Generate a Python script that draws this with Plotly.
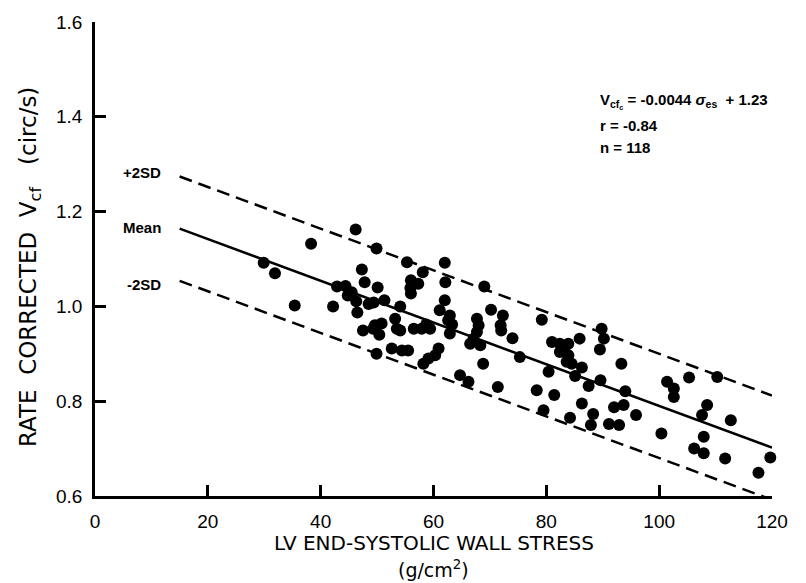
import plotly.graph_objects as go

# Scatter data: LV end-systolic wall stress (g/cm^2) vs rate corrected Vcf (circ/s)
stress = [
    29.9, 31.9, 35.4, 38.3, 42.2, 42.9, 44.4, 44.8, 46.2, 46.3,
    46.5, 47.3, 47.8, 47.5, 49.4, 49.6, 49.9, 50.1, 50.4, 49.9,
    50.8, 51.3, 49.3, 53.2, 53.5, 54.1, 54.1, 52.6, 54.4, 55.5,
    55.3, 58.1, 56.0, 57.3, 55.9, 56.0, 56.5, 57.9, 59.4, 58.2,
    59.1, 60.3, 60.9, 62.0, 62.1, 62.0, 61.1, 62.9, 62.6, 62.9,
    64.7, 66.2, 66.5, 67.7, 68.0, 67.7, 68.3, 68.8, 69.0, 70.2,
    72.3, 71.9, 72.0, 74.0, 71.4, 75.3, 79.2, 78.3, 79.5, 80.4,
    81.0, 81.4, 82.4, 82.4, 83.9, 83.9, 83.6, 84.5, 85.1, 84.2,
    85.9, 86.3, 87.5, 89.6, 89.8, 90.2, 89.5, 93.3, 94.0, 86.3,
    88.3, 87.9, 91.1, 92.9, 92.0, 93.7, 95.9, 100.4, 101.4, 102.6,
    102.6, 105.3, 110.3, 108.5, 107.6, 112.7, 107.9, 106.2, 107.9, 111.7,
    119.7, 117.6, 45.5, 48.5, 67.1, 63.3, 83.1, 58.7,
]
vcf = [
    1.092, 1.070, 1.002, 1.132, 1.000, 1.042, 1.043, 1.023, 1.162, 1.011,
    0.987, 1.078, 1.051, 0.949, 1.008, 0.960, 1.122, 1.040, 0.940, 0.900,
    0.964, 1.013, 0.953, 0.974, 0.953, 1.000, 0.949, 0.911, 0.907, 0.907,
    1.093, 1.072, 1.055, 1.048, 1.039, 1.027, 0.953, 0.953, 0.953, 0.879,
    0.890, 0.897, 0.911, 1.092, 1.051, 1.013, 0.992, 0.981, 0.971, 0.943,
    0.855, 0.841, 0.921, 0.974, 0.960, 0.946, 0.918, 0.879, 1.042, 0.993,
    0.981, 0.960, 0.949, 0.933, 0.830, 0.893, 0.972, 0.823, 0.781, 0.862,
    0.925, 0.813, 0.921, 0.904, 0.921, 0.897, 0.883, 0.879, 0.853, 0.765,
    0.932, 0.871, 0.832, 0.844, 0.953, 0.932, 0.909, 0.879, 0.821, 0.795,
    0.773, 0.750, 0.752, 0.750, 0.787, 0.792, 0.771, 0.732, 0.841, 0.827,
    0.809, 0.850, 0.851, 0.792, 0.771, 0.760, 0.725, 0.700, 0.690, 0.679,
    0.681, 0.649, 1.030, 1.005, 0.932, 0.962, 0.910, 0.962,
]

# Regression line and +/-2SD band (endpoints in data units)
line_x = [15, 120]
mean_y = [1.164, 0.702]
plus2sd_y = [1.274, 0.812]
minus2sd_y = [1.054, 0.592]

x_ticks = [0, 20, 40, 60, 80, 100, 120]
y_ticks = [0.6, 0.8, 1.0, 1.2, 1.4, 1.6]

FONT = "Liberation Sans, Arial, Helvetica, sans-serif"
WIDE = "DejaVu Sans, Verdana, sans-serif"
NB = "\u00a0"

fig = go.Figure()
fig.add_trace(go.Scatter(x=line_x, y=plus2sd_y, mode="lines",
                         line=dict(color="black", width=2.5, dash="13px,7px")))
fig.add_trace(go.Scatter(x=line_x, y=mean_y, mode="lines",
                         line=dict(color="black", width=2.5)))
fig.add_trace(go.Scatter(x=line_x, y=minus2sd_y, mode="lines",
                         line=dict(color="black", width=2.5, dash="13px,7px")))
fig.add_trace(go.Scatter(x=stress, y=vcf, mode="markers", cliponaxis=False,
                         marker=dict(color="black", size=12, line=dict(width=0))))

axis_common = dict(showgrid=False, zeroline=False, showline=True, linecolor="black",
                   linewidth=2.5, ticks="inside", ticklen=11, tickwidth=2.5,
                   tickcolor="black", tickfont=dict(family=FONT, size=19, color="black"))

fig.update_xaxes(range=[0, 120], tickvals=x_ticks, ticktext=[str(v) for v in x_ticks],
                 ticklabelstandoff=6, **axis_common)
fig.update_yaxes(range=[0.6, 1.6], tickvals=y_ticks, ticktext=[f"{v:.1f}" for v in y_ticks],
                 ticklabelstandoff=6, **axis_common)

ann_font = dict(family=FONT, size=15, color="black", weight="bold")
annotations = [
    dict(x=12.0, y=1.283, text="+2SD", xanchor="right", yanchor="middle", showarrow=False, font=ann_font),
    dict(x=12.0, y=1.166, text="Mean", xanchor="right", yanchor="middle", showarrow=False, font=ann_font),
    dict(x=12.0, y=1.047, text="-2SD", xanchor="right", yanchor="middle", showarrow=False, font=ann_font),
    dict(x=89.2, y=1.432, text="V<sub>cf<sub>c</sub></sub> = -0.0044 <i>σ</i><sub>es</sub>  + 1.23",
         xanchor="left", yanchor="middle", showarrow=False, font=ann_font),
    dict(x=89.2, y=1.382, text="r = -0.84", xanchor="left", yanchor="middle", showarrow=False, font=ann_font),
    dict(x=89.2, y=1.335, text="n = 118", xanchor="left", yanchor="middle", showarrow=False, font=ann_font),
    dict(x=0.5, y=0, xref="paper", yref="paper", yshift=-47, text="LV END-SYSTOLIC WALL STRESS",
         xanchor="center", yanchor="middle", showarrow=False,
         font=dict(family=WIDE, size=20, color="black")),
    dict(x=0.5, y=0, xref="paper", yref="paper", yshift=-87, text="(g/cm<sup>2</sup>)",
         xanchor="center", yanchor="bottom", showarrow=False,
         font=dict(family=WIDE, size=19, color="black")),
    dict(x=0, y=0.5, xref="paper", yref="paper", xshift=-65, yshift=-8,
         text=f"RATE{NB*2}CORRECTED{NB*2}V<sub>cf</sub>{NB*3}(circ/s)", textangle=-90,
         xanchor="center", yanchor="middle", showarrow=False,
         font=dict(family=WIDE, size=23, color="black")),
]

fig.update_layout(
    width=806, height=583,
    margin=dict(l=95, r=34, t=19, b=87),
    paper_bgcolor="white", plot_bgcolor="white",
    showlegend=False,
    annotations=annotations,
)

fig.write_html("out.html")
